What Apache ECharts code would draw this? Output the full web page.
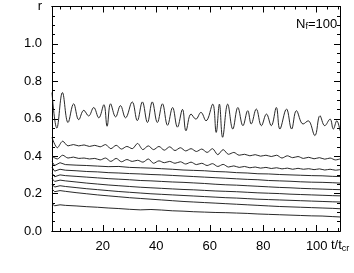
<!DOCTYPE html>
<html><head><meta charset="utf-8">
<script src="https://cdn.jsdelivr.net/npm/echarts@6/dist/echarts.min.js"></script>
<style>html,body{margin:0;padding:0;background:#fff}#c{width:354px;height:273px}</style>
</head><body><div id="c"></div>
<script>
// ---- tick labels ----
var xMajor = [20, 40, 60, 80, 100];
var xMinor = [4, 8, 12, 16, 24, 28, 32, 36, 44, 48, 52, 56, 64, 68, 72, 76, 84, 88, 92, 96, 104, 108];
var yMajor = [0, 0.2, 0.4, 0.6, 0.8, 1.0, 1.2];
var yMinor = [0.05, 0.1, 0.15, 0.25, 0.3, 0.35, 0.45, 0.5, 0.55, 0.65, 0.7, 0.75, 0.85, 0.9, 0.95, 1.05, 1.1, 1.15];
var yTitle = 'r';
var panelLabel = 'N{s|f}=100';

// ---- top (oscillating) curve ----
var tTop = [1, 2.8, 4.9, 7.0, 9.1, 11.0, 12.9, 14.7, 16.6, 18.5, 20.4, 21.6, 22.9, 24.8, 26.6, 28.5, 31.0, 32.9, 34.8, 36.7, 38.5, 40.4, 42.3, 44.2, 46.1, 47.9, 49.8, 51.1, 53.0, 54.8, 56.7, 58.6, 61.1, 62.4, 63.6, 64.8, 66.7, 68.6, 70.5, 72.4, 74.2, 75.5, 77.4, 79.3, 81.2, 83.0, 84.9, 86.2, 88.7, 90.6, 92.4, 94.9, 96.8, 99.3, 101.2, 103.0, 105.0, 106.2, 107.5, 108.7];
var rTop = [0.74, 0.55, 0.74, 0.58, 0.68, 0.595, 0.645, 0.615, 0.66, 0.605, 0.675, 0.56, 0.68, 0.61, 0.67, 0.605, 0.69, 0.59, 0.69, 0.58, 0.69, 0.58, 0.68, 0.565, 0.66, 0.555, 0.65, 0.536, 0.625, 0.598, 0.634, 0.589, 0.678, 0.527, 0.678, 0.501, 0.678, 0.545, 0.66, 0.563, 0.643, 0.572, 0.652, 0.563, 0.625, 0.563, 0.66, 0.545, 0.652, 0.545, 0.643, 0.572, 0.589, 0.51, 0.616, 0.563, 0.598, 0.545, 0.589, 0.536];

// ---- second and third (wavy) curves ----
var tWavy = [1, 3, 5, 7, 9, 11, 13, 15, 17, 19, 21, 23, 25, 27, 29, 31, 33, 35, 37, 39, 41, 43, 45, 47, 49, 51, 53, 55, 57, 59, 61, 63, 65, 67, 69, 71, 73, 75, 77, 79, 81, 83, 85, 87, 89, 91, 93, 95, 97, 99, 101, 103, 105, 107, 108.7];
var r2 = [0.50, 0.445, 0.48, 0.455, 0.462, 0.455, 0.46, 0.452, 0.458, 0.45, 0.462, 0.44, 0.458, 0.438, 0.452, 0.44, 0.468, 0.435, 0.455, 0.435, 0.452, 0.432, 0.45, 0.43, 0.445, 0.428, 0.44, 0.425, 0.438, 0.42, 0.44, 0.408, 0.435, 0.41, 0.42, 0.405, 0.41, 0.402, 0.408, 0.4, 0.405, 0.398, 0.405, 0.39, 0.402, 0.392, 0.398, 0.388, 0.394, 0.386, 0.392, 0.384, 0.39, 0.38, 0.385];
var r3 = [0.40, 0.385, 0.405, 0.39, 0.395, 0.388, 0.39, 0.385, 0.388, 0.38, 0.39, 0.372, 0.388, 0.37, 0.382, 0.372, 0.378, 0.368, 0.385, 0.362, 0.375, 0.365, 0.372, 0.362, 0.37, 0.358, 0.368, 0.355, 0.362, 0.35, 0.36, 0.345, 0.356, 0.342, 0.348, 0.34, 0.345, 0.338, 0.342, 0.336, 0.34, 0.334, 0.338, 0.332, 0.336, 0.33, 0.335, 0.33, 0.333, 0.328, 0.332, 0.326, 0.33, 0.325, 0.328];

// ---- lower (smooth-decaying) curves ----
var tLow = [1, 2, 4, 6, 10, 14, 18, 22, 26, 30, 34, 38, 42, 46, 50, 54, 58, 62, 66, 70, 74, 78, 82, 86, 90, 94, 98, 102, 106, 108.7];
var r4 = [0.37, 0.35, 0.365, 0.355, 0.352, 0.35, 0.347, 0.344, 0.345, 0.34, 0.338, 0.336, 0.333, 0.33, 0.326, 0.324, 0.322, 0.318, 0.316, 0.312, 0.31, 0.306, 0.305, 0.302, 0.3, 0.298, 0.296, 0.295, 0.292, 0.291];
var r5 = [0.34, 0.32, 0.33, 0.325, 0.322, 0.318, 0.316, 0.312, 0.31, 0.307, 0.305, 0.302, 0.3, 0.297, 0.294, 0.291, 0.288, 0.285, 0.282, 0.279, 0.276, 0.274, 0.27, 0.268, 0.266, 0.263, 0.261, 0.26, 0.258, 0.256];
var r6 = [0.31, 0.29, 0.3, 0.296, 0.292, 0.288, 0.284, 0.28, 0.277, 0.274, 0.27, 0.268, 0.265, 0.262, 0.26, 0.257, 0.254, 0.25, 0.247, 0.245, 0.242, 0.239, 0.236, 0.233, 0.231, 0.228, 0.226, 0.224, 0.222, 0.221];
var r7 = [0.28, 0.265, 0.272, 0.268, 0.262, 0.256, 0.251, 0.246, 0.242, 0.238, 0.234, 0.231, 0.228, 0.225, 0.222, 0.22, 0.217, 0.214, 0.212, 0.21, 0.207, 0.204, 0.202, 0.2, 0.197, 0.195, 0.193, 0.191, 0.189, 0.188];
var r8 = [0.25, 0.235, 0.242, 0.238, 0.232, 0.226, 0.221, 0.216, 0.211, 0.207, 0.203, 0.199, 0.196, 0.193, 0.19, 0.187, 0.184, 0.181, 0.178, 0.176, 0.173, 0.17, 0.168, 0.166, 0.164, 0.162, 0.16, 0.158, 0.156, 0.155];
var r9 = [0.225, 0.21, 0.216, 0.212, 0.205, 0.199, 0.193, 0.188, 0.183, 0.178, 0.174, 0.17, 0.166, 0.162, 0.158, 0.155, 0.152, 0.149, 0.146, 0.143, 0.14, 0.137, 0.134, 0.131, 0.129, 0.127, 0.125, 0.123, 0.121, 0.119];
var r10 = [0.145, 0.135, 0.14, 0.137, 0.134, 0.13, 0.127, 0.123, 0.12, 0.116, 0.113, 0.115, 0.112, 0.108, 0.106, 0.103, 0.101, 0.099, 0.098, 0.096, 0.094, 0.091, 0.089, 0.087, 0.085, 0.083, 0.081, 0.08, 0.077, 0.075];

var X_MIN = 1, X_MAX = 108.7, Y_MIN = 0, Y_MAX = 1.2;
var FONT = 'Liberation Sans';

function zip(xs, ys) { return xs.map(function (x, i) { return [x, ys[i]]; }); }

function xAx(pos, vals, len, labels) {
  return {
    type: 'value', min: X_MIN, max: X_MAX, position: pos,
    axisLine: { show: true, onZero: false, lineStyle: { color: '#000', width: 1 } },
    axisTick: { show: true, inside: true, length: len, customValues: vals, lineStyle: { color: '#000', width: 1 } },
    axisLabel: labels ? { show: true, customValues: vals, color: '#000', fontSize: 13, fontFamily: FONT, margin: 9 } : { show: false },
    splitLine: { show: false }
  };
}
function yAx(pos, vals, len, labels) {
  return {
    type: 'value', min: Y_MIN, max: Y_MAX, position: pos,
    axisLine: { show: true, onZero: false, lineStyle: { color: '#000', width: 1 } },
    axisTick: { show: true, inside: true, length: len, customValues: vals, lineStyle: { color: '#000', width: 1 } },
    axisLabel: labels ? {
      show: true, customValues: vals, color: '#000', fontSize: 13, fontFamily: FONT, margin: 10,
      formatter: function (v) { return v > 1.19 ? yTitle : v.toFixed(1); }
    } : { show: false },
    splitLine: { show: false }
  };
}

var curves = [[tTop, rTop], [tWavy, r2], [tWavy, r3], [tLow, r4], [tLow, r5], [tLow, r6], [tLow, r7], [tLow, r8], [tLow, r9], [tLow, r10]];

var chart = echarts.init(document.getElementById('c'), null, { renderer: 'canvas' });
chart.setOption({
  animation: false,
  backgroundColor: '#fff',
  grid: { left: 52, right: 14, top: 5, bottom: 42, containLabel: false },
  xAxis: [
    xAx('bottom', xMajor, 6, true),
    xAx('bottom', xMinor, 3, false),
    xAx('top', xMajor, 6, false),
    xAx('top', xMinor, 3, false)
  ],
  yAxis: [
    yAx('left', yMajor, 6, true),
    yAx('left', yMinor, 3, false),
    yAx('right', yMajor, 6, false),
    yAx('right', yMinor, 3, false)
  ],
  series: curves.map(function (c, i) {
    return {
      type: 'line', xAxisIndex: 0, yAxisIndex: 0, showSymbol: false, symbol: 'none',
      smooth: i === 0 ? 0.4 : (i < 3 ? 0.3 : false),
      lineStyle: { color: '#111', width: 0.9 },
      data: zip(c[0], c[1])
    };
  }),
  graphic: [
    {
      type: 'text', left: 296, top: 18,
      style: {
        text: panelLabel, fill: '#000', font: '13px ' + FONT,
        rich: { s: { fontSize: 9, fontFamily: FONT, fill: '#000', padding: [5, 0, 0, 0] } }
      }
    },
    {
      type: 'text', left: 331, top: 239,
      style: {
        text: 't/t{s|cr}', fill: '#000', font: '13px ' + FONT,
        rich: { s: { fontSize: 9, fontFamily: FONT, fill: '#000', padding: [6, 0, 0, 0] } }
      }
    }
  ]
});
</script>
</body></html>
